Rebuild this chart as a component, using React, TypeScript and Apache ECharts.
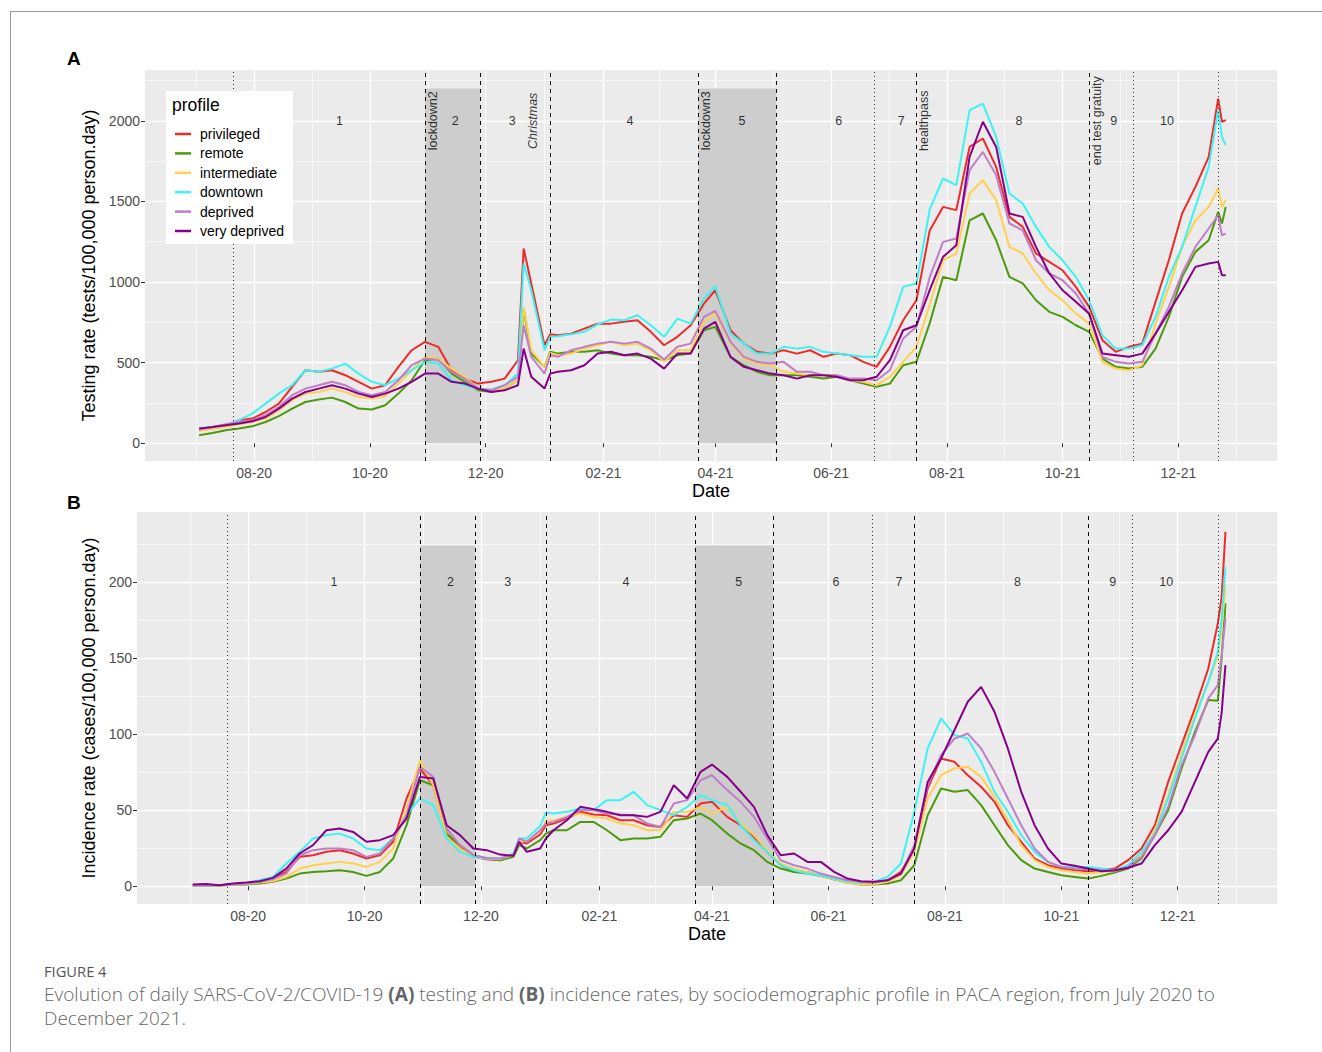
import React, { useEffect, useRef } from "react";
import * as echarts from "echarts";

// ---------- shared time points (weekly + a few extra dates at sharp changes) ----------
const dates = [
  "2020-07-03", "2020-07-10", "2020-07-17", "2020-07-24", "2020-07-31",
  "2020-08-07", "2020-08-14", "2020-08-21", "2020-08-28",
  "2020-09-04", "2020-09-11", "2020-09-18", "2020-09-25",
  "2020-10-02", "2020-10-09", "2020-10-16", "2020-10-23", "2020-10-30",
  "2020-11-06", "2020-11-13", "2020-11-20", "2020-11-27",
  "2020-12-04", "2020-12-11", "2020-12-18", "2020-12-21", "2020-12-25",
  "2021-01-01", "2021-01-04", "2021-01-08", "2021-01-15", "2021-01-22", "2021-01-29",
  "2021-02-05", "2021-02-12", "2021-02-19", "2021-02-26",
  "2021-03-05", "2021-03-12", "2021-03-19", "2021-03-26",
  "2021-04-01", "2021-04-09", "2021-04-16", "2021-04-23", "2021-04-30",
  "2021-05-07", "2021-05-14", "2021-05-21", "2021-05-28",
  "2021-06-04", "2021-06-11", "2021-06-18", "2021-06-25",
  "2021-07-02", "2021-07-09", "2021-07-16", "2021-07-23", "2021-07-30",
  "2021-08-06", "2021-08-13", "2021-08-20", "2021-08-27",
  "2021-09-03", "2021-09-10", "2021-09-17", "2021-09-24",
  "2021-10-01", "2021-10-08", "2021-10-15", "2021-10-22", "2021-10-29",
  "2021-11-05", "2021-11-12", "2021-11-19", "2021-11-26",
  "2021-12-03", "2021-12-10", "2021-12-17", "2021-12-22", "2021-12-24", "2021-12-26",
];

const profiles = ["privileged", "remote", "intermediate", "downtown", "deprived", "very deprived"];
const colors = ["#EE2A2A", "#4C9A0C", "#FFD04F", "#3CF3F3", "#C07EC9", "#86008A"];

// ---------- Panel A: testing rate (tests/100,000 person.day) ----------
const testPrivileged = [81, 91, 105, 143, 153, 194, 246, 350, 453, 443, 453, 422, 381, 339, 360, 474, 577, 629, 598, 453, 401, 370, 381, 401, 515, 1208, 991, 608, 676, 670, 680, 711, 742, 742, 753, 763, 691, 608, 660, 732, 866, 949, 701, 618, 567, 556, 577, 556, 577, 536, 556, 546, 505, 474, 598, 763, 887, 1320, 1466, 1446, 1838, 1890, 1714, 1404, 1342, 1177, 1125, 1073, 970, 846, 639, 567, 598, 618, 877, 1135, 1425, 1590, 1776, 2138, 1994, 2004];
const testRemote = [50, 64, 81, 91, 105, 132, 168, 215, 256, 271, 283, 256, 215, 209, 236, 308, 391, 515, 525, 432, 381, 329, 318, 339, 391, 835, 556, 474, 567, 556, 567, 567, 577, 556, 546, 546, 536, 515, 546, 556, 701, 722, 536, 484, 443, 422, 422, 422, 412, 401, 412, 391, 370, 350, 370, 484, 505, 745, 1032, 1011, 1383, 1425, 1259, 1032, 991, 887, 815, 784, 732, 691, 525, 474, 463, 474, 587, 784, 1032, 1187, 1259, 1435, 1363, 1466];
const testIntermediate = [77, 91, 101, 118, 132, 153, 205, 267, 308, 318, 339, 318, 287, 277, 292, 370, 453, 536, 525, 463, 412, 339, 329, 339, 391, 846, 577, 474, 560, 546, 556, 587, 608, 629, 608, 618, 577, 505, 577, 577, 753, 804, 618, 525, 494, 484, 443, 432, 422, 422, 422, 391, 381, 360, 412, 505, 598, 860, 1135, 1177, 1549, 1632, 1508, 1218, 1177, 1053, 949, 887, 804, 742, 505, 463, 453, 484, 742, 970, 1218, 1383, 1466, 1580, 1466, 1508];
const testDowntown = [91, 101, 112, 143, 184, 246, 308, 360, 453, 443, 463, 494, 432, 381, 360, 401, 453, 505, 494, 391, 360, 339, 333, 360, 432, 1115, 949, 577, 660, 664, 676, 691, 738, 767, 763, 794, 732, 660, 773, 742, 898, 974, 680, 618, 556, 556, 598, 587, 598, 567, 556, 546, 536, 536, 722, 970, 991, 1450, 1642, 1601, 2066, 2107, 1900, 1549, 1487, 1342, 1218, 1135, 1032, 887, 670, 587, 587, 608, 784, 1032, 1218, 1466, 1714, 2066, 1900, 1849];
const testDeprived = [85, 101, 118, 132, 143, 174, 225, 298, 339, 360, 381, 360, 318, 298, 318, 391, 484, 525, 515, 443, 401, 339, 329, 360, 412, 732, 536, 432, 546, 536, 577, 598, 618, 629, 618, 629, 587, 519, 598, 618, 784, 821, 629, 536, 505, 494, 505, 443, 443, 422, 422, 401, 401, 391, 453, 649, 722, 1030, 1249, 1270, 1694, 1807, 1663, 1363, 1321, 1135, 1053, 1011, 929, 804, 536, 505, 494, 505, 680, 846, 1053, 1218, 1332, 1414, 1290, 1300];
const testVeryDeprived = [91, 101, 112, 122, 136, 163, 215, 277, 318, 339, 360, 339, 308, 287, 308, 339, 381, 432, 432, 381, 370, 339, 318, 329, 360, 587, 412, 339, 432, 443, 453, 484, 556, 567, 546, 556, 525, 463, 556, 556, 711, 753, 536, 474, 453, 432, 422, 401, 422, 422, 412, 391, 391, 412, 515, 701, 732, 950, 1156, 1228, 1776, 1994, 1838, 1425, 1404, 1218, 1053, 949, 877, 804, 556, 546, 536, 556, 680, 815, 949, 1094, 1115, 1125, 1042, 1042];

// ---------- Panel B: incidence rate (cases/100,000 person.day) ----------
const incPrivileged = [0.7, 0.5, 0.7, 1.3, 1.8, 3.3, 5.0, 9.4, 19.3, 20.4, 22.6, 23.7, 21.5, 18.2, 20.4, 29.2, 57.7, 77.4, 66.4, 33.6, 25.9, 19.3, 17.8, 17.1, 20.4, 29.2, 28.1, 34.0, 40.1, 41.2, 44.5, 48.9, 47.1, 46.7, 43.4, 43.4, 40.1, 39.0, 46.7, 45.6, 54.4, 55.5, 45.6, 40.1, 32.5, 22.6, 13.8, 9.4, 9.4, 6.8, 4.6, 2.9, 1.8, 1.8, 3.9, 9.4, 24.8, 64.3, 84.0, 81.8, 73.0, 65.4, 55.5, 40.1, 29.2, 18.2, 13.8, 11.6, 10.5, 9.9, 10.5, 11.6, 17.1, 24.8, 40.1, 68.6, 92.8, 116.9, 143.2, 172.8, 190.0, 233.1];
const incRemote = [0.5, 0.3, 0.5, 0.8, 1.2, 1.8, 2.9, 5.0, 8.3, 9.4, 9.9, 10.5, 9.4, 6.8, 9.4, 18.2, 40.1, 69.7, 66.4, 34.6, 27.0, 20.4, 18.2, 17.1, 19.3, 27.0, 24.8, 30.3, 34.6, 36.8, 36.8, 42.3, 42.3, 36.8, 30.3, 31.4, 31.4, 32.5, 43.4, 44.5, 47.8, 43.4, 34.6, 28.1, 23.7, 16.0, 11.6, 9.4, 8.3, 6.8, 4.6, 2.4, 1.1, 1.1, 1.8, 3.9, 13.8, 46.7, 64.3, 62.1, 63.2, 53.3, 40.1, 27.0, 17.1, 11.6, 9.4, 7.2, 6.1, 5.0, 6.8, 9.0, 11.6, 18.2, 33.6, 50.0, 77.4, 101.5, 122.4, 122.0, 150.0, 186.0];
const incIntermediate = [0.5, 0.3, 0.5, 1.0, 1.5, 2.4, 3.3, 6.1, 11.6, 13.8, 14.9, 16.0, 14.9, 12.7, 16.0, 24.8, 51.1, 82.9, 66.4, 32.5, 24.8, 19.3, 18.2, 17.8, 20.4, 29.2, 29.6, 36.2, 42.8, 43.4, 45.6, 47.8, 45.6, 44.5, 41.2, 40.1, 36.8, 36.8, 48.9, 48.9, 52.2, 47.8, 52.2, 41.2, 33.6, 23.7, 14.9, 11.6, 9.4, 6.8, 4.6, 2.4, 1.3, 1.3, 2.9, 7.2, 22.6, 57.7, 73.0, 77.4, 78.5, 71.9, 58.8, 43.4, 27.0, 17.1, 12.7, 10.5, 9.4, 8.3, 9.4, 9.9, 13.8, 20.4, 36.8, 59.9, 87.3, 112.5, 134.4, 150.9, 169.5, 198.0];
const incDowntown = [0.7, 0.5, 0.7, 1.3, 1.8, 3.9, 6.1, 14.9, 22.6, 31.4, 33.6, 34.6, 31.4, 24.8, 23.7, 31.4, 46.7, 57.7, 53.3, 31.4, 22.6, 19.3, 18.2, 18.2, 21.5, 31.4, 31.4, 39.7, 48.5, 47.8, 48.9, 51.1, 50.0, 56.6, 56.6, 62.1, 53.3, 50.0, 46.7, 52.2, 59.9, 56.6, 53.3, 40.1, 30.3, 22.6, 13.8, 10.5, 8.3, 7.2, 5.0, 3.3, 2.4, 2.9, 6.1, 14.9, 48.9, 90.6, 110.3, 99.3, 97.1, 81.8, 62.1, 48.9, 33.6, 22.6, 16.0, 12.7, 12.7, 12.7, 11.6, 10.5, 13.8, 22.6, 34.6, 57.7, 84.0, 110.3, 134.4, 154.2, 176.1, 210.1];
const incDeprived = [0.6, 0.4, 0.6, 1.1, 1.6, 2.9, 4.6, 8.3, 20.4, 23.7, 24.8, 24.8, 23.7, 19.3, 21.5, 31.4, 46.7, 78.5, 71.9, 37.9, 27.0, 20.4, 18.6, 18.2, 20.8, 31.4, 29.2, 36.8, 41.2, 42.3, 45.6, 50.0, 50.0, 47.8, 47.1, 46.7, 41.2, 39.0, 54.4, 56.6, 69.7, 73.0, 63.2, 55.5, 45.6, 31.4, 17.1, 13.8, 11.6, 8.3, 6.1, 3.9, 2.9, 2.4, 3.9, 8.3, 27.0, 66.4, 86.2, 97.1, 100.4, 90.6, 75.2, 57.7, 40.1, 24.8, 16.0, 12.7, 11.6, 11.2, 10.5, 9.9, 12.7, 19.3, 33.6, 52.2, 79.6, 99.3, 123.5, 132.2, 152.0, 176.1];
const incVeryDeprived = [1.1, 1.5, 0.7, 1.8, 2.4, 3.3, 5.5, 11.6, 21.5, 27.0, 36.8, 37.9, 35.7, 29.2, 30.3, 33.6, 44.5, 71.9, 70.8, 40.1, 33.6, 24.8, 23.7, 20.8, 20.0, 29.2, 22.6, 24.8, 31.4, 36.8, 43.4, 52.2, 50.7, 48.9, 46.7, 46.7, 45.6, 48.9, 66.4, 57.7, 75.2, 80.0, 71.9, 62.1, 52.2, 33.6, 20.4, 21.5, 16.0, 16.0, 9.4, 5.0, 3.3, 2.9, 3.9, 8.3, 24.8, 68.6, 84.0, 102.6, 121.3, 131.1, 114.7, 90.6, 62.1, 40.1, 24.8, 14.9, 13.4, 11.6, 9.9, 10.5, 12.1, 14.9, 27.0, 36.8, 48.9, 68.6, 88.4, 97.1, 114.0, 145.4];

// ---------- axes, ticks, annotations ----------
const xMinA = "2020-06-04 11:00";
const xMinB = "2020-06-03 19:00";
const xMax = "2022-01-22";
const xTickDates = ["2020-08-01", "2020-10-01", "2020-12-01", "2021-02-01", "2021-04-01", "2021-06-01", "2021-08-01", "2021-10-01", "2021-12-01"];
const xMinorDates = ["2020-07-01 12:00", "2020-08-31 12:00", "2020-10-31 12:00", "2021-01-01", "2021-03-02 12:00", "2021-05-01 12:00", "2021-07-01 12:00", "2021-08-31 12:00", "2021-10-31 12:00", "2021-12-31 12:00"];
const testTicks = [0, 500, 1000, 1500, 2000];
const testMinor = [250, 750, 1250, 1750, 2250];
const incTicks = [0, 50, 100, 150, 200];
const incMinor = [25, 75, 125, 175, 225];
const testRange = [-110, 2315];
const incRange = [-11.7, 246.1];

const periodNames = ["1", "2", "3", "4", "5", "6", "7", "8", "9", "10"];
const periodDates = ["2020-09-15", "2020-11-15", "2020-12-15", "2021-02-15", "2021-04-15", "2021-06-05", "2021-07-08", "2021-09-08", "2021-10-28", "2021-11-25"];
const eventNames = ["lockdown2", "Christmas", "lockdown3", "healthpass", "end test gratuity"];
const eventDates = ["2020-11-03", "2020-12-26", "2021-03-27", "2021-07-20", "2021-10-19"];
const dashedDates = ["2020-10-30", "2020-11-28", "2021-01-04", "2021-03-23", "2021-05-03", "2021-07-16", "2021-10-15"];
const dottedDates = ["2020-07-21", "2021-06-24", "2021-11-07", "2021-12-22"];
const lockdownStarts = ["2020-10-30", "2021-03-23"];
const lockdownEnds = ["2020-11-28", "2021-05-03"];
const testShadeTop = 2200;
const incShadeTop = 224;
const testLabelY = 2000;
const incLabelY = 200;

const FONT = '"Liberation Sans", Arial, Helvetica, sans-serif';

function ts(s: string): number {
  const [d, t] = s.split(" ");
  const [y, m, dd] = d.split("-").map(Number);
  const h = t ? Number(t.split(":")[0]) : 0;
  return new Date(y, m - 1, dd, h).getTime();
}

function fmtDate(v: number): string {
  const d = new Date(v);
  const mm = String(d.getMonth() + 1).padStart(2, "0");
  const yy = String(d.getFullYear()).slice(2);
  return `${mm}-${yy}`;
}

function buildOption() {
  const xTicks = xTickDates.map(ts);
  const testSets = [testPrivileged, testRemote, testIntermediate, testDowntown, testDeprived, testVeryDeprived];
  const incSets = [incPrivileged, incRemote, incIntermediate, incDowntown, incDeprived, incVeryDeprived];

  const xAxisFor = (gi: number, minStr: string) => ({
    type: "value",
    gridIndex: gi,
    min: ts(minStr),
    max: ts(xMax),
    scale: true,
    axisLine: { show: false },
    axisTick: { show: true, length: 4, lineStyle: { color: "#333333", width: 1 }, customValues: xTicks },
    axisLabel: {
      show: true,
      customValues: xTicks,
      formatter: (v: number) => fmtDate(v),
      color: "#4D4D4D",
      fontSize: 14,
      fontFamily: FONT,
      margin: 5,
      hideOverlap: false,
    },
    splitLine: { show: false },
    minorSplitLine: { show: false },
    name: "Date",
    nameLocation: "middle",
    nameGap: 21,
    nameTextStyle: { fontSize: 18, color: "#000", fontFamily: FONT },
  });

  const yAxisFor = (gi: number, range: number[], ticks: number[], name: string, gap: number) => ({
    type: "value",
    gridIndex: gi,
    min: range[0],
    max: range[1],
    axisLine: { show: false },
    axisTick: { show: true, length: 4, lineStyle: { color: "#333333", width: 1 }, customValues: ticks },
    axisLabel: {
      customValues: ticks,
      formatter: (v: number) => String(v),
      color: "#4D4D4D",
      fontSize: 14,
      fontFamily: FONT,
      margin: 5,
    },
    splitLine: { show: false },
    minorSplitLine: { show: false },
    name,
    nameLocation: "middle",
    nameGap: gap,
    nameTextStyle: { fontSize: 18, color: "#000", fontFamily: FONT },
  });

  const gridSeries = (gi: number, yMajor: number[], yMinor: number[]) => ({
    type: "line",
    name: `grid${gi}`,
    xAxisIndex: gi,
    yAxisIndex: gi,
    data: [],
    z: 0,
    silent: true,
    markLine: {
      z: 0,
      silent: true,
      symbol: ["none", "none"],
      label: { show: false },
      emphasis: { disabled: true },
      data: [
        ...xMinorDates.map((d) => ({ xAxis: ts(d), lineStyle: { color: "#FFFFFF", width: 0.6, type: "solid" } })),
        ...yMinor.map((v) => ({ yAxis: v, lineStyle: { color: "#FFFFFF", width: 0.6, type: "solid" } })),
        ...xTickDates.map((d) => ({ xAxis: ts(d), lineStyle: { color: "#FFFFFF", width: 1.3, type: "solid" } })),
        ...yMajor.map((v) => ({ yAxis: v, lineStyle: { color: "#FFFFFF", width: 1.3, type: "solid" } })),
      ],
    },
  });

  const shadeSeries = (gi: number, top: number) => ({
    type: "line",
    name: `shade${gi}`,
    xAxisIndex: gi,
    yAxisIndex: gi,
    data: [],
    z: 1,
    silent: true,
    markArea: {
      z: 1,
      silent: true,
      itemStyle: { color: "#CDCDCD", opacity: 1 },
      label: { show: false },
      emphasis: { disabled: true },
      data: lockdownStarts.map((s, i) => [
        { xAxis: ts(s), yAxis: 0 },
        { xAxis: ts(lockdownEnds[i]), yAxis: top },
      ]),
    },
  });

  const vlineSeries = (gi: number) => ({
    type: "line",
    name: `vlines${gi}`,
    xAxisIndex: gi,
    yAxisIndex: gi,
    data: [],
    z: 3,
    silent: true,
    markLine: {
      z: 3,
      silent: true,
      symbol: ["none", "none"],
      label: { show: false },
      emphasis: { disabled: true },
      data: [
        ...dashedDates.map((d) => ({ xAxis: ts(d), lineStyle: { color: "#000", width: 1, type: [4, 4] } })),
        ...dottedDates.map((d) => ({ xAxis: ts(d), lineStyle: { color: "#333", width: 1, type: [1, 3] } })),
      ],
    },
  });

  const labelSeries = (gi: number, y: number, withEvents: boolean) => {
    const items: any[] = periodNames.map((n, i) => ({
      value: [ts(periodDates[i]), y],
      label: { formatter: n },
    }));
    if (withEvents) {
      eventNames.forEach((n, i) => {
        items.push({
          value: [ts(eventDates[i]), y],
          label: { formatter: n, rotate: 90, fontStyle: n === "Christmas" ? "italic" : "normal" },
        });
      });
    }
    return {
      type: "scatter",
      name: `labels${gi}`,
      xAxisIndex: gi,
      yAxisIndex: gi,
      z: 3,
      silent: true,
      symbol: "circle",
      symbolSize: 1,
      itemStyle: { color: "rgba(0,0,0,0)" },
      label: {
        show: true,
        position: "inside",
        align: "center",
        verticalAlign: "middle",
        color: "#000",
        fontSize: 12.5,
        fontFamily: FONT,
      },
      labelLayout: { hideOverlap: false },
      data: items,
    };
  };

  const profileSeries = (gi: number, sets: number[][]) =>
    profiles.map((p, i) => ({
      type: "line",
      name: p,
      xAxisIndex: gi,
      yAxisIndex: gi,
      z: 2,
      silent: true,
      showSymbol: false,
      symbol: "none",
      lineStyle: { color: colors[i], width: 2 },
      itemStyle: { color: colors[i] },
      data: dates.map((d, j) => [ts(d), sets[i][j]]),
    }));

  return {
    animation: false,
    textStyle: { fontFamily: FONT },
    grid: [
      { left: 145, right: 45, top: 70, height: 391, show: true, backgroundColor: "#EBEBEB", borderWidth: 0 },
      { left: 137, right: 45, top: 512, height: 392, show: true, backgroundColor: "#EBEBEB", borderWidth: 0 },
    ],
    xAxis: [xAxisFor(0, xMinA), xAxisFor(1, xMinB)],
    yAxis: [
      yAxisFor(0, testRange, testTicks, "Testing rate (tests/100,000 person.day)", 40),
      yAxisFor(1, incRange, incTicks, "Incidence rate (cases/100,000 person.day)", 32),
    ],
    legend: {
      data: profiles,
      orient: "vertical",
      left: 166,
      top: 91,
      z: 10,
      padding: [36, 9, 6, 9],
      backgroundColor: "#FFFFFF",
      itemWidth: 16,
      itemHeight: 2.5,
      itemGap: 5.4,
      icon: "rect",
      selectedMode: false,
      textStyle: { fontSize: 14, color: "#000", fontFamily: FONT, padding: [0, 0, 0, 4] },
    },
    graphic: [
      { type: "text", left: 67, top: 49, z: 20, style: { text: "A", font: `bold 19px ${FONT}`, fill: "#000" } },
      { type: "text", left: 67, top: 493, z: 20, style: { text: "B", font: `bold 19px ${FONT}`, fill: "#000" } },
      { type: "text", left: 172, top: 96, z: 20, style: { text: "profile", font: `17.5px ${FONT}`, fill: "#000" } },
    ],
    series: [
      gridSeries(0, testTicks, testMinor),
      gridSeries(1, incTicks, incMinor),
      shadeSeries(0, testShadeTop),
      shadeSeries(1, incShadeTop),
      ...profileSeries(0, testSets),
      ...profileSeries(1, incSets),
      vlineSeries(0),
      vlineSeries(1),
      labelSeries(0, testLabelY, true),
      labelSeries(1, incLabelY, false),
    ],
  };
}

export default function App() {
  const ref = useRef<HTMLDivElement>(null);
  useEffect(() => {
    if (!ref.current) return;
    const chart = echarts.init(ref.current, undefined, { renderer: "svg" });
    chart.setOption(buildOption() as any);
    return () => chart.dispose();
  }, []);

  const bold = { fontWeight: 700 };

  return (
    <div style={{ position: "absolute", left: 0, top: 0, width: 1322, height: 1052, background: "#fff", overflow: "hidden" }}>
      <div
        style={{
          position: "absolute",
          left: 10,
          top: 11,
          width: 1320,
          height: 1050,
          borderTop: "1px solid #9A9A9A",
          borderLeft: "1px solid #9A9A9A",
        }}
      />
      <div ref={ref} style={{ position: "absolute", left: 0, top: 0, width: 1322, height: 950 }} />
      <div
        style={{
          position: "absolute",
          left: 44,
          top: 961,
          fontFamily: "'Open Sans', Lato, sans-serif",
          fontSize: 14.7,
          color: "#555",
          whiteSpace: "nowrap",
        }}
      >
        FIGURE 4
      </div>
      <div
        style={{
          position: "absolute",
          left: 44,
          top: 982,
          fontFamily: "'Open Sans', Lato, sans-serif",
          fontSize: 19,
          fontWeight: 300,
          lineHeight: "24px",
          color: "#666666",
          whiteSpace: "nowrap",
        }}
      >
        Evolution of daily SARS-CoV-2/COVID-19 <span style={bold}>(A)</span> testing and <span style={bold}>(B)</span>{" "}
        incidence rates, by sociodemographic profile in PACA region, from July 2020 to
        <br />
        December 2021.
      </div>
    </div>
  );
}
